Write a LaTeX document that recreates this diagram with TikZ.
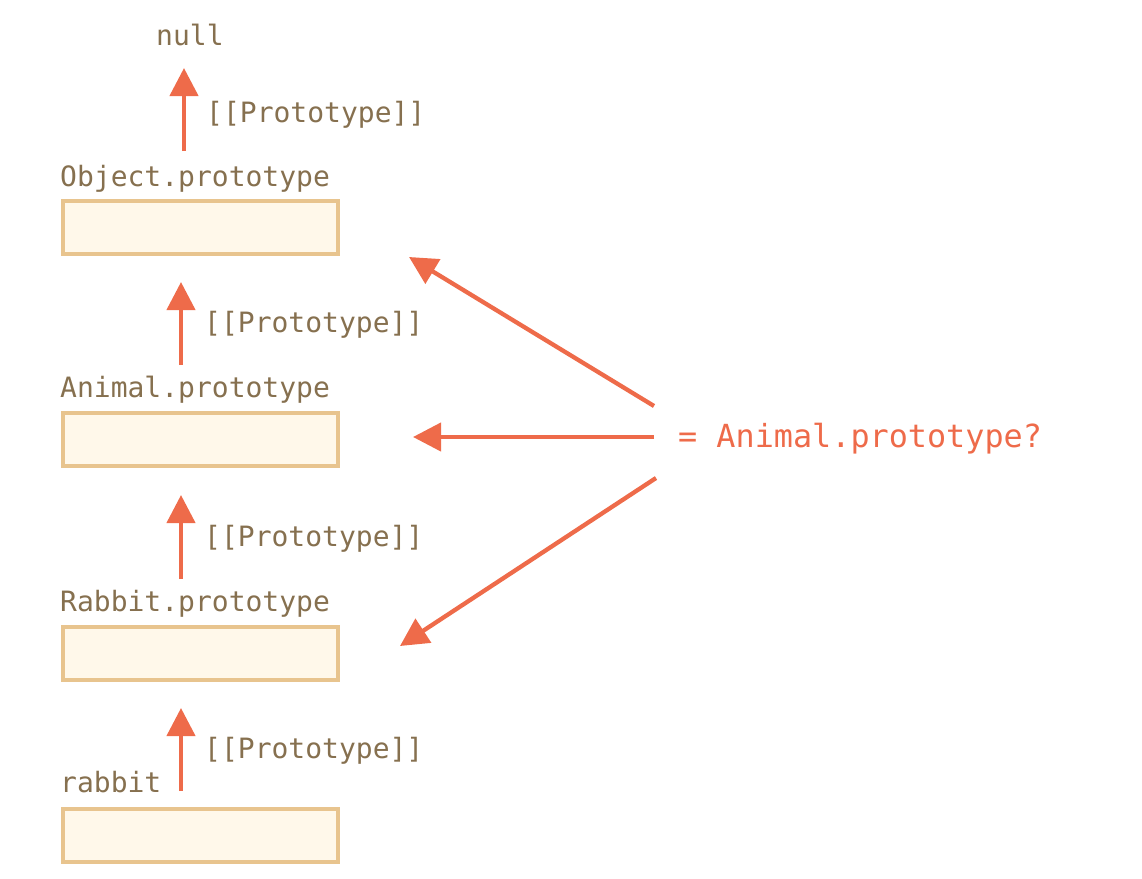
\documentclass[tikz,border=0pt]{standalone}
\usepackage{fontspec}
\setmonofont{DejaVu Sans Mono}
\usetikzlibrary{arrows.meta}
\definecolor{txt}{HTML}{86704F}
\definecolor{arr}{HTML}{EE6B4A}
\definecolor{boxline}{HTML}{E8C48E}
\definecolor{boxfill}{HTML}{FFF8EA}
\begin{document}
\begin{tikzpicture}[x=1pt,y=-1pt,
  objbox/.style={draw=boxline,fill=boxfill,line width=4pt,minimum width=275pt,minimum height=53pt,inner sep=0pt,outer sep=0pt,anchor=north west},
  lbl/.style={font=\ttfamily\fontsize{28}{30}\selectfont,text=txt,anchor=base west,inner sep=0pt},
  biglbl/.style={font=\ttfamily\fontsize{31.8}{34}\selectfont,text=arr,anchor=base west,inner sep=0pt},
  protoarrow/.style={draw=arr,line width=4.3pt,-{Triangle[length=28pt,width=28pt]}},
]
\useasboundingbox (0,0) rectangle (1142,878);
% boxes
\node[objbox] (objb) at (63,201) {};
\node[objbox] (anib) at (63,413) {};
\node[objbox] (rabb) at (63,627) {};
\node[objbox] (rabbitb) at (63,809) {};
% labels
\node[lbl] (nulltxt) at (156,45) {null};
\node[lbl] (objtxt) at (60,186) {Object.prototype};
\node[lbl] (anitxt) at (60,397) {Animal.prototype};
\node[lbl] (rabtxt) at (60,611) {Rabbit.prototype};
\node[lbl] (rabbittxt) at (60,792) {rabbit};
\node[lbl] (p1) at (206,122) {[[Prototype]]};
\node[lbl] (p2) at (204,332) {[[Prototype]]};
\node[lbl] (p3) at (204,546) {[[Prototype]]};
\node[lbl] (p4) at (204,758) {[[Prototype]]};
\node[biglbl] (q) at (678,447) {= Animal.prototype?};
% arrow end points
\coordinate (a1s) at (184,151);
\coordinate (a1e) at (184,68);
\coordinate (a2s) at (181,365);
\coordinate (a2e) at (181,282);
\coordinate (a3s) at (181,579);
\coordinate (a3e) at (181,495);
\coordinate (a4s) at (181,791);
\coordinate (a4e) at (181,708);
\coordinate (d1s) at (654,406);
\coordinate (d1e) at (409,257);
\coordinate (d2s) at (654,437);
\coordinate (d2e) at (413,437);
\coordinate (d3s) at (656,478);
\coordinate (d3e) at (400,646);
\draw[protoarrow] (a1s) -- (a1e);
\draw[protoarrow] (a2s) -- (a2e);
\draw[protoarrow] (a3s) -- (a3e);
\draw[protoarrow] (a4s) -- (a4e);
\draw[protoarrow] (d1s) -- (d1e);
\draw[protoarrow] (d2s) -- (d2e);
\draw[protoarrow] (d3s) -- (d3e);
\end{tikzpicture}
\end{document}
